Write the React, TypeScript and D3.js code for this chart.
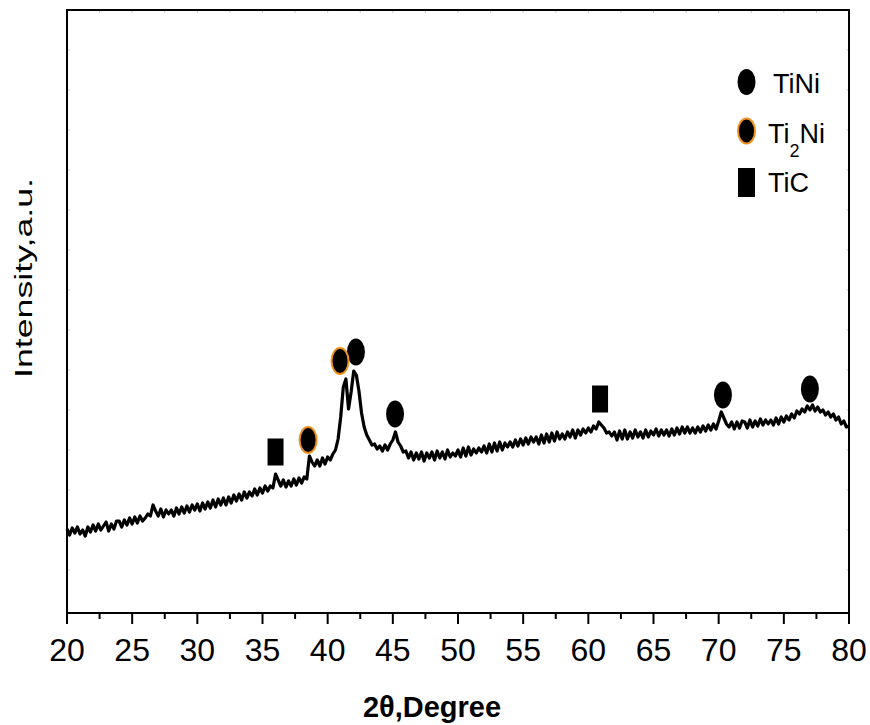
import React, { useEffect } from "react";
import * as d3 from "d3";

// XRD scan: 2θ from 20° to 80° in 0.2° steps, intensity in arbitrary units
const thetaStart = 20;
const thetaStep = 0.2;
const intensity: number[] = [
  84, 78, 85, 80, 86, 79, 83, 77, 86, 81,
  88, 82, 89, 83, 87, 91, 82, 89, 84, 92,
  92, 86, 93, 88, 95, 89, 96, 90, 97, 92,
  95, 99, 97, 108, 102, 97, 104, 96, 103, 99,
  103, 97, 105, 99, 106, 100, 107, 101, 108, 103,
  109, 102, 110, 104, 111, 105, 113, 106, 114, 108,
  115, 108, 116, 110, 118, 112, 119, 113, 121, 115,
  121, 117, 124, 118, 125, 120, 127, 122, 127, 125,
  139, 133, 127, 133, 126, 132, 127, 134, 128, 135,
  130, 136, 134, 157, 151, 147, 153, 147, 155, 149,
  156, 153, 159, 163, 174, 196, 226, 234, 204, 221,
  242, 238, 222, 200, 186, 178, 173, 168, 169, 164,
  167, 162, 168, 163, 169, 173, 181, 171, 167, 161,
  162, 155, 161, 153, 160, 154, 161, 152, 160, 155,
  161, 153, 162, 155, 161, 154, 163, 156, 160, 157,
  163, 156, 165, 157, 166, 158, 164, 160, 165, 161,
  167, 160, 169, 161, 170, 162, 171, 163, 170, 166,
  171, 166, 173, 167, 174, 168, 175, 169, 176, 171,
  176, 169, 178, 170, 179, 171, 180, 172, 181, 174,
  179, 174, 181, 176, 183, 175, 183, 178, 184, 180,
  185, 181, 187, 184, 191, 188, 185, 180, 181, 177,
  181, 173, 182, 174, 183, 174, 181, 175, 183, 176,
  181, 175, 183, 176, 182, 178, 184, 177, 183, 178,
  183, 177, 184, 178, 185, 179, 186, 180, 186, 180,
  185, 180, 186, 181, 187, 182, 188, 183, 189, 184,
  192, 201, 195, 189, 186, 191, 184, 191, 185, 192,
  191, 185, 193, 186, 192, 187, 194, 188, 193, 189,
  193, 188, 195, 189, 196, 191, 197, 193, 199, 195,
  202, 199, 204, 201, 207, 203, 208, 202, 206, 201,
  203, 198, 201, 196, 199, 193, 196, 189, 192, 186,
  187,
];

// Phase markers placed above the identified reflections
const tiNiPeaks = [
  { theta: 42.17, level: 261 },
  { theta: 45.17, level: 199 },
  { theta: 70.33, level: 218 },
  { theta: 77.0, level: 224 },
];
const ti2NiPeaks = [
  { theta: 38.5, level: 173 },
  { theta: 40.95, level: 252 },
];
const tiCPeaks = [
  { theta: 36.0, level: 161 },
  { theta: 60.9, level: 214 },
];

const xTicksMajor = [20, 25, 30, 35, 40, 45, 50, 55, 60, 65, 70, 75, 80];
const xTicksMinor = [22.5, 27.5, 32.5, 37.5, 42.5, 47.5, 52.5, 57.5, 62.5, 67.5, 72.5, 77.5];

const W = 870;
const H = 725;
const left = 67;
const right = 849;
const top = 10;
const bottom = 613;

const FONT = "'Liberation Sans', Arial, sans-serif";
const ORANGE = "#f0901e";

export default function App() {
  useEffect(() => {
    document.body.style.margin = "0";
  }, []);

  const x = d3.scaleLinear().domain([20, 80]).range([left, right]);
  const y = d3.scaleLinear().domain([0, 603]).range([bottom, top]);

  const points: [number, number][] = intensity.map((v, i) => [thetaStart + i * thetaStep, v]);
  const line = d3
    .line<[number, number]>()
    .x((d) => x(d[0]))
    .y((d) => y(d[1]));

  const yFaintTicks = d3.range(43, 603, 40);
  const allX = [...xTicksMajor, ...xTicksMinor];

  const rx = 9;
  const ry = 13.5;

  return (
    <svg width={W} height={H} style={{ display: "block", background: "#fff" }}>
      {/* faint mirror ticks on the top and right edges, and on the left edge */}
      <g stroke="#c8c8c8" strokeWidth={1}>
        {allX.map((t) => (
          <line key={"tt" + t} x1={x(t)} x2={x(t)} y1={top} y2={top + 3} />
        ))}
        {yFaintTicks.map((t) => (
          <line key={"rl" + t} x1={left} x2={left + 3} y1={y(t)} y2={y(t)} />
        ))}
        {yFaintTicks.map((t) => (
          <line key={"rr" + t} x1={right - 3} x2={right} y1={y(t)} y2={y(t)} />
        ))}
      </g>

      {/* diffraction pattern */}
      <path
        d={line(points) || ""}
        fill="none"
        stroke="#000"
        strokeWidth={3.2}
        strokeLinejoin="round"
      />

      {/* plot frame */}
      <rect
        x={left}
        y={top}
        width={right - left}
        height={bottom - top}
        fill="none"
        stroke="#000"
        strokeWidth={2}
      />

      {/* bottom axis ticks */}
      <g stroke="#000" strokeWidth={2}>
        {xTicksMajor.map((t) => (
          <line key={"M" + t} x1={x(t)} x2={x(t)} y1={bottom} y2={bottom + 11} />
        ))}
        {xTicksMinor.map((t) => (
          <line key={"m" + t} x1={x(t)} x2={x(t)} y1={bottom} y2={bottom + 6} />
        ))}
      </g>
      <g fontFamily={FONT} fontSize={32} textAnchor="middle" fill="#000">
        {xTicksMajor.map((t) => (
          <text key={"l" + t} x={x(t)} y={661}>
            {t}
          </text>
        ))}
      </g>

      {/* axis titles */}
      <text
        x={432}
        y={717}
        fontFamily={FONT}
        fontSize={29}
        fontWeight="bold"
        textAnchor="middle"
      >
        2θ,Degree
      </text>
      <text
        transform={`translate(32, 278) rotate(-90)`}
        fontFamily={FONT}
        fontSize={23}
        textAnchor="middle"
        textLength={200}
        lengthAdjust="spacingAndGlyphs"
      >
        Intensity,a.u.
      </text>

      {/* phase markers */}
      {tiNiPeaks.map((p, i) => (
        <ellipse key={"n" + i} cx={x(p.theta)} cy={y(p.level)} rx={rx} ry={ry} fill="#000" />
      ))}
      {ti2NiPeaks.map((p, i) => (
        <ellipse
          key={"o" + i}
          cx={x(p.theta)}
          cy={y(p.level)}
          rx={rx - 0.5}
          ry={ry - 0.5}
          fill="#000"
          stroke={ORANGE}
          strokeWidth={2}
        />
      ))}
      {tiCPeaks.map((p, i) => (
        <rect key={"c" + i} x={x(p.theta) - 8} y={y(p.level) - 13.5} width={16} height={27} fill="#000" />
      ))}

      {/* legend */}
      <g fontFamily={FONT} fontSize={27} fill="#000">
        <ellipse cx={746.5} cy={82} rx={9} ry={13} fill="#000" />
        <text x={773} y={93}>TiNi</text>

        <ellipse cx={746.5} cy={131} rx={8.5} ry={12.5} fill="#000" stroke={ORANGE} strokeWidth={2} />
        <text x={768} y={143}>
          Ti
          <tspan fontSize={18} dy={14}>2</tspan>
          <tspan dy={-14}>Ni</tspan>
        </text>

        <rect x={738} y={168} width={17} height={29} fill="#000" />
        <text x={768} y={192}>TiC</text>
      </g>
    </svg>
  );
}
